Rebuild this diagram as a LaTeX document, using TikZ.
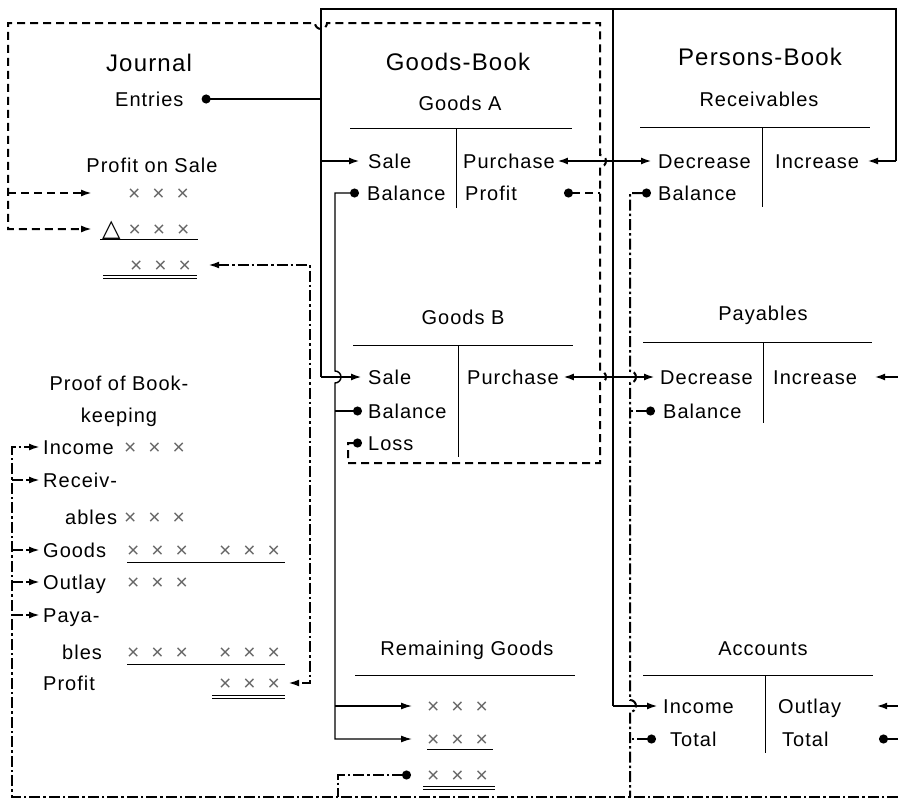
\documentclass[tikz,border=0pt]{standalone}
\usepackage{fontspec}
\setmainfont{Liberation Sans}[LetterSpace=5]
\newfontfamily\symfont{DejaVu Sans}
\usetikzlibrary{arrows.meta}
\definecolor{xgray}{gray}{0.4}
\newcommand\xxx{{\color{xgray}\addfontfeature{LetterSpace=0}\fontsize{21}{22}\selectfont×\hspace{12pt}×\hspace{12pt}×}}
\newcommand\bodyfont{\fontsize{20}{23}\selectfont}
\newcommand\headfont{\fontsize{24}{27}\selectfont}
\newcommand\tri{{\symfont\fontsize{24}{24}\selectfont △}}
\begin{document}
\begin{tikzpicture}[x=1pt,y=-1pt,
  every node/.style={inner sep=0pt},
  lb/.style={anchor=west,font=\bodyfont,text height=14.5pt,text depth=0pt},
  sub/.style={font=\bodyfont,text height=14.5pt,text depth=0pt},
  hd/.style={font=\headfont,text height=17pt,text depth=0pt},
  tline/.style={line width=1pt},
  main/.style={line width=2.2pt},
  thinline/.style={line width=1.4pt},
  dsh/.style={line width=2pt,dash pattern=on 8pt off 5pt},
  dd/.style={line width=2pt,dash pattern=on 11pt off 3pt on 2.5pt off 3pt},
  arr/.style={-{Latex[length=11pt,width=7pt]}},
  dotarr/.style={{Circle[length=9pt]}-{Latex[length=11pt,width=7pt]}},
  dotst/.style={{Circle[length=9pt]}-},
  ]
\useasboundingbox (0,0) rectangle (898,798);

% ---------- texts: left ----------
\node[hd] (journal) at (149,63) {Journal};
\node[lb] (entries) at (115,99) {Entries};
\node[sub] (profitsale) at (152,165) {Profit on Sale};
\node[lb] (ps1) at (128,193) {\xxx};
\node[lb] (ps2) at (102,229) {\tri\hspace{8pt}\xxx};
\node[lb] (ps3) at (130,265) {\xxx};
\node[sub] (proof1) at (119,383) {Proof of Book-};
\node[sub] (proof2) at (119,415) {keeping};
\node[lb] (pInc) at (43,447) {Income};
\node[lb] (xInc) at (124,447) {\xxx};
\node[lb] (pRecv) at (43,480) {Receiv-};
\node[lb] (pAbles) at (65,517) {ables};
\node[lb] (xAbles) at (124,517) {\xxx};
\node[lb] (pGoods) at (43,550) {Goods};
\node[lb] (xGoods1) at (127,550) {\xxx};
\node[lb] (xGoods2) at (219,550) {\xxx};
\node[lb] (pOut) at (43,582) {Outlay};
\node[lb] (xOut) at (127,582) {\xxx};
\node[lb] (pPaya) at (43,615) {Paya-};
\node[lb] (pBles) at (62,652) {bles};
\node[lb] (xBles1) at (127,652) {\xxx};
\node[lb] (xBles2) at (219,652) {\xxx};
\node[lb] (pProfit) at (43,683) {Profit};
\node[lb] (xProfit) at (219,683) {\xxx};

% ---------- texts: middle ----------
\node[hd] (gbook) at (458,62) {Goods-Book};
\node[sub] (gA) at (460,103) {Goods A};
\node[lb] (saleA) at (368,161) {Sale};
\node[lb] (balA) at (367,193) {Balance};
\node[lb] (purchA) at (463,161) {Purchase};
\node[lb] (profA) at (465,193) {Profit};
\node[sub] (gB) at (463,317) {Goods B};
\node[lb] (saleB) at (368,377) {Sale};
\node[lb] (balB) at (368,411) {Balance};
\node[lb] (loss) at (368,443) {Loss};
\node[lb] (purchB) at (467,377) {Purchase};
\node[sub] (rem) at (467,648) {Remaining Goods};
\node[lb] (rg1) at (427,706) {\xxx};
\node[lb] (rg2) at (427,739) {\xxx};
\node[lb] (rg3) at (427,775) {\xxx};

% ---------- texts: right ----------
\node[hd] (pbook) at (760,57) {Persons-Book};
\node[sub] (recv) at (759,99) {Receivables};
\node[lb] (decR) at (658,161) {Decrease};
\node[lb] (incR) at (775,161) {Increase};
\node[lb] (balR) at (658,193) {Balance};
\node[sub] (pay) at (763,313) {Payables};
\node[lb] (decP) at (660,377) {Decrease};
\node[lb] (incP) at (773,377) {Increase};
\node[lb] (balP) at (663,411) {Balance};
\node[sub] (acc) at (763,648) {Accounts};
\node[lb] (accInc) at (663,706) {Income};
\node[lb] (accTot) at (670,739) {Total};
\node[lb] (accOut) at (778,706) {Outlay};
\node[lb] (accTot2) at (782,739) {Total};

% ---------- T-account rules ----------
\draw[tline] (350,128) -- (572,128) (456,128) -- (456,208);
\draw[tline] (353,345) -- (573,345) (458,345) -- (458,457);
\draw[tline] (355,675) -- (575,675);
\draw[tline] (640,127) -- (870,127) (762,127) -- (762,207);
\draw[tline] (643,342) -- (872,342) (763,342) -- (763,423);
\draw[tline] (643,675) -- (873,675) (765,675) -- (765,753);

% ---------- underlines ----------
\draw[tline] (100,239) -- (198,239);
\draw[tline] (103,275) -- (197,275) (103,278.5) -- (197,278.5);
\draw[tline] (127,562) -- (285,562);
\draw[tline] (127,664) -- (285,664);
\draw[tline] (212,695) -- (285,695) (212,698.5) -- (285,698.5);
\draw[tline] (427,749) -- (493,749);
\draw[tline] (423,786) -- (495,786) (423,789.5) -- (495,789.5);

% ---------- junction coordinates ----------
\coordinate (jE) at (321,99);
\coordinate (jSaleA) at (321,161);
\coordinate (jSaleB) at (321,377);
\coordinate (jTopL) at (321,9);
\coordinate (jTopM) at (613,9);
\coordinate (jTopR) at (896,9);
\coordinate (jRow1) at (613,161);
\coordinate (jRow1R) at (896,161);
\coordinate (jRow2) at (613,377);
\coordinate (jRow3) at (613,706);
\coordinate (eIncP) at (898,377);
\coordinate (eOut) at (898,706);

% ---------- main solid connectors (journal entries) ----------
\draw[main,dotst] ([xshift=18pt]entries.east) -- (jE);
\draw[main] (jSaleB) -- (jTopL) -- (jTopR) -- (jRow1R);
\draw[main] (jTopM) -- (jRow3);
\draw[main,arr,shorten >=8pt] (jSaleA) -- (saleA.west);
\draw[main,arr,shorten >=6pt] (jSaleB) -- (saleB.west);
\draw[main,arr,shorten >=2pt] (jRow1) -- (purchA.east);
\draw[main,arr,shorten >=6pt] (jRow1) -- (decR.west);
\draw[main,arr,shorten >=8pt] (jRow1R) -- (incR.east);
\draw[main,arr,shorten >=4pt] (jRow2) -- (purchB.east);
\draw[main,arr,shorten >=5pt] (jRow2) -- (decP.west);
\draw[main,arr,shorten >=17pt] (eIncP) -- (incP.east);
\draw[main,arr,shorten >=5pt] (jRow3) -- (accInc.west);
\draw[main,arr,shorten >=35pt] (eOut) -- (accOut.east);

% ---------- thin solid: goods balances to remaining goods ----------
\draw[thinline,dotarr,shorten >=15pt] ([xshift=-8pt]balA.west) -- (335,193) -- (335,371)
   arc[start angle=-90,end angle=90,radius=6] -- (335,739) -- (rg2.west);
\draw[thinline,arr,shorten >=15pt] (335,706) -- (rg1.west);
\draw[thinline,dotst] ([xshift=-6pt]balB.west) -- (335,411);

% ---------- dashed: profit / loss on sale ----------
\draw[dsh,dotst] (564,193) -- (600,193);
\draw[dsh,dotarr] ([xshift=-6pt]loss.west) -- (348,443) -- (348,463) -- (600,463)
   -- (600,383) arc[start angle=90,end angle=-90,radius=6]
   -- (600,167) arc[start angle=90,end angle=-90,radius=6]
   -- (600,23) -- (327,23) arc[start angle=0,end angle=180,radius=6]
   -- (8,23) -- (8,229) -- ([xshift=-10pt]ps2.west);
\draw[dsh,arr] (8,193) -- ([xshift=-10pt]ps1.west -| ps2.west);

% ---------- dash-dot: balances to proof ----------
\draw[dd,{Latex[length=11pt,width=7pt]}-{Latex[length=11pt,width=7pt]},shorten <=17pt,shorten >=8pt]
   (ps3.east) -- (310,265) -- (310,683) -- (xProfit.east);
\draw[dd,arr,shorten >=3pt] (898,797) -- (12,797) -- (12,447) -- (pInc.west);
\draw[dd,arr,shorten >=3pt] (12,480) -- (pRecv.west);
\draw[dd,arr,shorten >=3pt] (12,550) -- (pGoods.west);
\draw[dd,arr,shorten >=3pt] (12,582) -- (pOut.west);
\draw[dd,arr,shorten >=3pt] (12,615) -- (pPaya.west);
\draw[dd,dotst] ([xshift=-16pt]rg3.west) -- (338,775) -- (338,797);
\draw[dd,dotst] ([xshift=-7pt]balR.west) -- (630,193) -- (630,371)
   arc[start angle=-90,end angle=90,radius=6] -- (630,700)
   arc[start angle=-90,end angle=90,radius=6] -- (630,797);
\draw[dd,dotst] ([xshift=-8pt]balP.west) -- (630,411);
\draw[dd,dotst] ([xshift=-14pt]accTot.west) -- (630,739);
\draw[dd,dotst] (879,739) -- (898,739);
\end{tikzpicture}
\end{document}
